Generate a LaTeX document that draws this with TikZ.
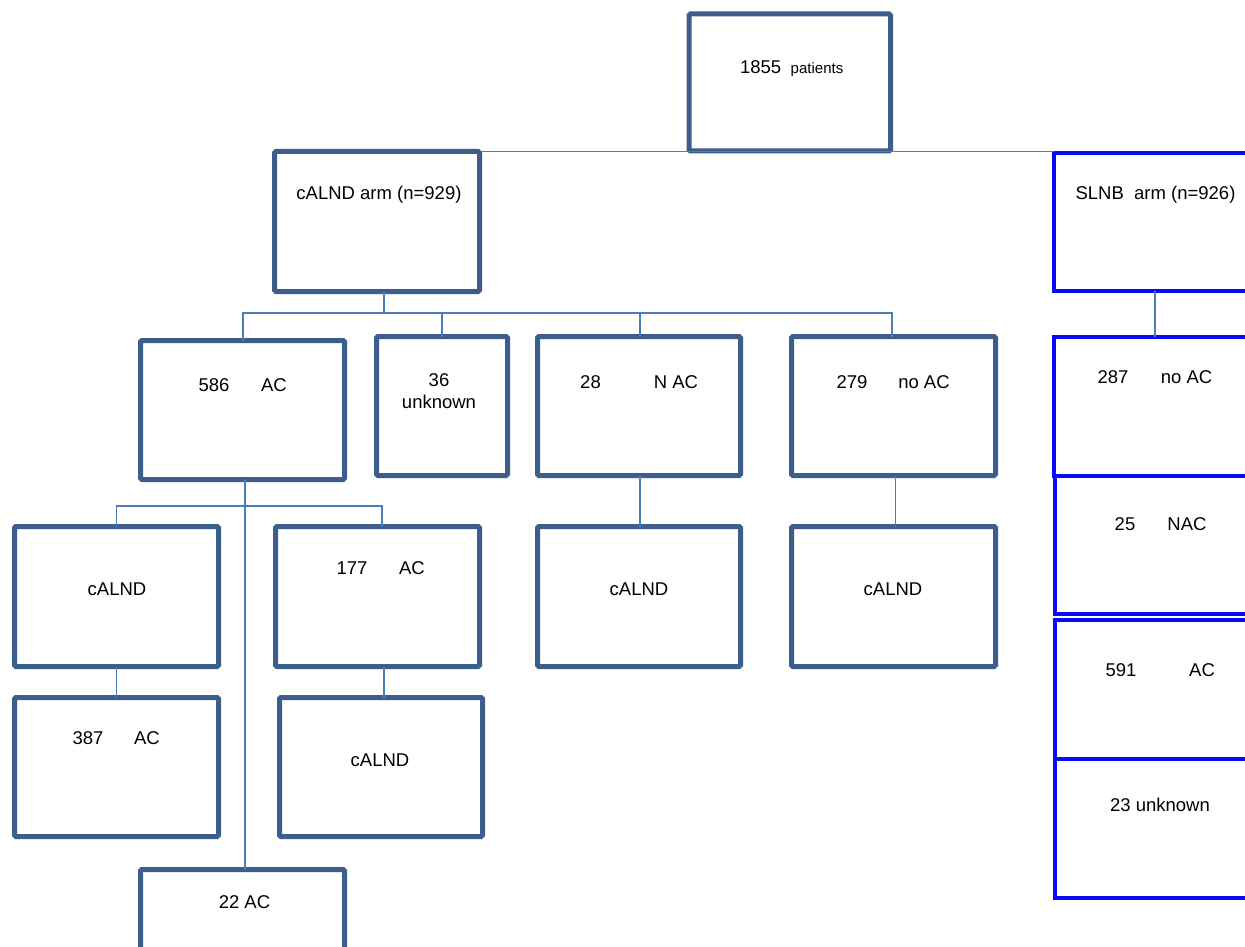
\documentclass[tikz,border=0pt]{standalone}
\usepackage{fontspec}
\setmainfont{Liberation Sans}
\definecolor{boxc}{RGB}{59,94,140}
\definecolor{connc}{RGB}{74,126,187}
\definecolor{bluec}{RGB}{10,10,250}
\tikzset{
  box/.style={draw=boxc, line width=5pt, rounded corners=1.5pt, rectangle, outer sep=0pt, inner sep=0pt, fill=white},
  bbox/.style={draw=bluec, line width=4pt, rectangle, outer sep=0pt, inner sep=0pt},
  conn/.style={draw=connc, line width=1.2pt},
  txt/.style={anchor=base, inner sep=0pt, font=\fontsize{18.5pt}{22pt}\selectfont},
  stxt/.style={anchor=base, inner sep=0pt, font=\fontsize{15pt}{18pt}\selectfont},
}
\begin{document}
\begin{tikzpicture}[x=1pt, y=-1pt]
\clip (0,0) rectangle (1245,947);
\fill[white] (0,0) rectangle (1245,947);

\coordinate (busL) at (243,313);
\coordinate (busR) at (892,313);
\coordinate (bus2L) at (117,506);
\coordinate (bus2R) at (382,506);

% boxes
\node[box, minimum width=201.5pt, minimum height=137pt] (top) at (789.75,82.5) {};
\node[box, minimum width=205pt, minimum height=140pt] (arm1) at (377,221.5) {};
\node[bbox, minimum width=216.5pt, minimum height=138.4pt] (arm2) at (1161.75,221.8) {};

\node[box, minimum width=204pt, minimum height=139pt] (b586) at (242.5,410) {};
\node[box, minimum width=131pt, minimum height=139pt] (b36) at (442,406) {};
\node[box, minimum width=203pt, minimum height=139pt] (b28) at (639,406) {};
\node[box, minimum width=204pt, minimum height=139pt] (b279) at (893.5,406) {};

\node[box, minimum width=204pt, minimum height=140pt] (c1) at (116.5,596.5) {};
\node[box, minimum width=204pt, minimum height=140pt] (b177) at (377.5,596.5) {};
\node[box, minimum width=203pt, minimum height=140pt] (c3) at (639,596.5) {};
\node[box, minimum width=204pt, minimum height=140pt] (c4) at (893.5,596.5) {};

\node[box, minimum width=204pt, minimum height=139pt] (b387) at (116.5,767) {};
\node[box, minimum width=203pt, minimum height=139pt] (c5) at (381,767) {};
\node[box, minimum width=204pt, minimum height=140pt] (b22) at (242.5,939.5) {};

\node[bbox, minimum width=216pt, minimum height=138.5pt] (r1) at (1162,406.25) {};
\node[bbox, minimum width=215pt, minimum height=138pt] (r2) at (1162.5,545) {};
\node[bbox, minimum width=215pt, minimum height=139pt] (r3) at (1162.5,689.5) {};
\node[bbox, minimum width=215pt, minimum height=138.5pt] (r4) at (1162.5,828.25) {};

% connectors
\draw[conn] (arm1.north east) -- (arm1.north east -| arm2.north west);
\draw[conn] ([xshift=7pt]arm1.south) -- ([xshift=7pt]arm1.south |- busL);
\draw[conn] (busL |- b586.north) -- (busL) -- (busR) -- (busR |- b279.north);
\draw[conn] (b36.north) -- (b36.north |- busL);
\draw[conn] ([xshift=1pt]b28.north) -- ([xshift=1pt]b28.north |- busL);
\draw[conn] ([xshift=2.5pt]b586.south) -- ([xshift=2.5pt]b22.north);
\draw[conn] (c1.north) -- (c1.north |- bus2L) -- (bus2R) -- (bus2R |- b177.north);
\draw[conn] ([xshift=1pt]b28.south) -- ([xshift=1pt]c3.north);
\draw[conn] ([xshift=2pt]b279.south) -- ([xshift=2pt]c4.north);
\draw[conn] (c1.south) -- (b387.north);
\draw[conn] ([xshift=6.5pt]b177.south) -- ([xshift=6.5pt]b177.south |- c5.north);
\draw[conn] ([xshift=-6.75pt]arm2.south) -- ([xshift=-6.75pt]arm2.south |- r1.north);

% texts
\node[txt] (t1855) at (760.7,74) {1855};
\node[stxt] (tpat) at (817,74) {patients};
\node[txt] (tarm1) at (379,199) {cALND arm (n=929)};
\node[txt] (tarm2) at (1155.5,199) {SLNB\ \ arm (n=926)};

\node[txt] (t586) at (214,391) {586};
\node[txt] (t586b) at (274,391) {AC};
\node[txt] (t36) at (439,386) {36};
\node[txt] (t36b) at (439,408) {unknown};
\node[txt] (t28) at (590.5,388) {28};
\node[txt] (t28b) at (676,388) {N AC};
\node[txt] (t279) at (852,388) {279};
\node[txt] (t279b) at (924,388) {no AC};

\node[txt] (tc1) at (117,595) {cALND};
\node[txt] (t177) at (352,574) {177};
\node[txt] (t177b) at (412,574) {AC};
\node[txt] (tc3) at (639,595) {cALND};
\node[txt] (tc4) at (893,595) {cALND};

\node[txt] (t387) at (88,744) {387};
\node[txt] (t387b) at (147,744) {AC};
\node[txt] (tc5) at (380,766) {cALND};
\node[txt] (t22) at (244.5,908) {22 AC};

\node[txt] (t287) at (1113,383) {287};
\node[txt] (t287b) at (1186.5,383) {no AC};
\node[txt] (t25) at (1125,530) {25};
\node[txt] (t25b) at (1187,530) {NAC};
\node[txt] (t591) at (1121,676) {591};
\node[txt] (t591b) at (1202,676) {AC};
\node[txt] (t23) at (1160,811) {23 unknown};
\end{tikzpicture}
\end{document}
